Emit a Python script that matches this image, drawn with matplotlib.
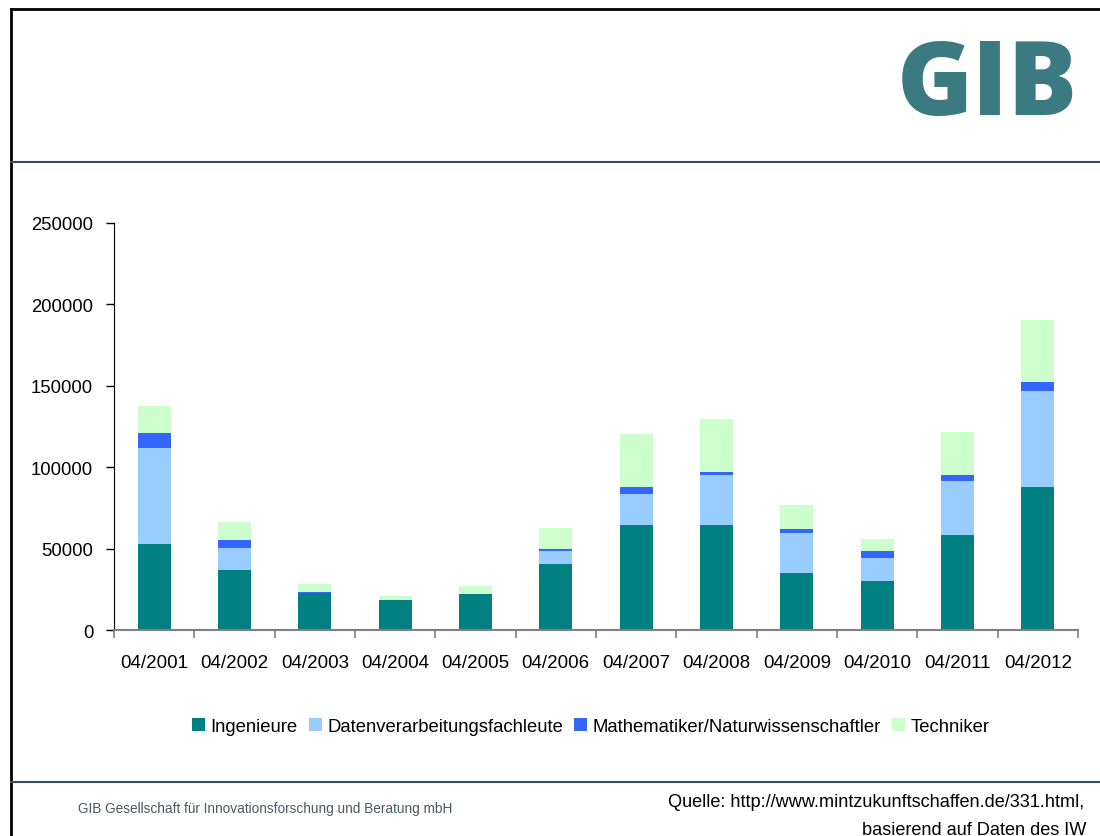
import numpy as np
import matplotlib.pyplot as plt
from matplotlib.lines import Line2D
from matplotlib.patches import Patch

plt.rcParams['font.family'] = ['Liberation Sans', 'DejaVu Sans']

years = ['04/2001', '04/2002', '04/2003', '04/2004', '04/2005', '04/2006',
         '04/2007', '04/2008', '04/2009', '04/2010', '04/2011', '04/2012']
ingenieure = [52800, 36900, 22900, 18400, 22100, 40500, 64500, 64500, 35000, 30100, 58400, 87800]
datenverarbeitung = [59000, 13500, 0, 0, 0, 8000, 19000, 30700, 24600, 14100, 33100, 59000]
mathematiker = [9200, 4900, 600, 0, 0, 1300, 4300, 1900, 2400, 4300, 3700, 5500]
techniker = [16600, 11000, 4800, 2500, 4900, 12900, 32600, 32500, 14800, 7400, 26400, 38100]

series = [
    ('Ingenieure', ingenieure, '#008080'),
    ('Datenverarbeitungsfachleute', datenverarbeitung, '#99CCFF'),
    ('Mathematiker/Naturwissenschaftler', mathematiker, '#3366FF'),
    ('Techniker', techniker, '#CCFFCC'),
]

fig = plt.figure(figsize=(11, 8.37), dpi=100)
ax = fig.add_axes([0.1036, 0.2461, 0.8764, 0.4863])

x = np.arange(len(years))
bottom = np.zeros(len(years))
for name, vals, col in series:
    vals = np.array(vals, dtype=float)
    ax.bar(x, vals, width=0.41, bottom=bottom, color=col, label=name, zorder=2)
    bottom += vals

ax.set_xlim(-0.5, len(years) - 0.5)
ax.set_ylim(0, 250000)
ax.set_yticks(np.arange(0, 250001, 50000))
ax.set_yticklabels([str(v) for v in range(0, 250001, 50000)], fontsize=13.3)

# category boundaries as ticks, labels in the middle
ax.set_xticks(np.arange(-0.5, len(years)), minor=False)
ax.set_xticklabels([])
ax.set_xticks(x, minor=True)
ax.set_xticklabels(years, minor=True, fontsize=13.5)
ax.tick_params(axis='x', which='major', length=6, color='#808080', width=1.2)
ax.tick_params(axis='x', which='minor', length=0, pad=17)
ax.tick_params(axis='y', length=6, width=1, pad=9)

ax.spines['top'].set_visible(False)
ax.spines['right'].set_visible(False)
ax.spines['left'].set_color('black')
ax.spines['bottom'].set_color('#808080')
ax.spines['bottom'].set_linewidth(1.5)

handles = [Patch(facecolor=c, label=n) for n, _, c in series]
fig.legend(handles=handles, loc='center', bbox_to_anchor=(0.537, 0.131), ncol=4,
           frameon=False, fontsize=13.3, handlelength=0.7, handleheight=0.7,
           handletextpad=0.3, columnspacing=0.6)

# page frame and separators
fig.add_artist(Line2D([0.01, 0.01], [0, 0.988], color='black', lw=2, transform=fig.transFigure))
fig.add_artist(Line2D([0.01, 1.0], [0.988, 0.988], color='black', lw=2, transform=fig.transFigure))
fig.add_artist(Line2D([0.01, 1.0], [0.805, 0.805], color='#2f4f5a', lw=1.5, transform=fig.transFigure))
fig.add_artist(Line2D([0.01, 1.0], [0.0645, 0.0645], color='#2f4f5a', lw=1.5, transform=fig.transFigure))

# logo
fig.text(0.898, 0.894, 'GIB', fontsize=74, fontweight=800, family='Open Sans',
         color='#3a7a80', ha='center', va='center')

# footer
fig.text(0.071, 0.034, 'GIB Gesellschaft für Innovationsforschung und Beratung mbH',
         fontsize=9.8, color='#4a5a60', ha='left', va='center')
fig.text(0.986, 0.041, 'Quelle: http://www.mintzukunftschaffen.de/331.html,',
         fontsize=13.1, color='black', ha='right', va='center')
fig.text(0.988, 0.008, 'basierend auf Daten des IW',
         fontsize=13.1, color='black', ha='right', va='center')

fig.savefig('out.png', dpi=100, facecolor='white')
